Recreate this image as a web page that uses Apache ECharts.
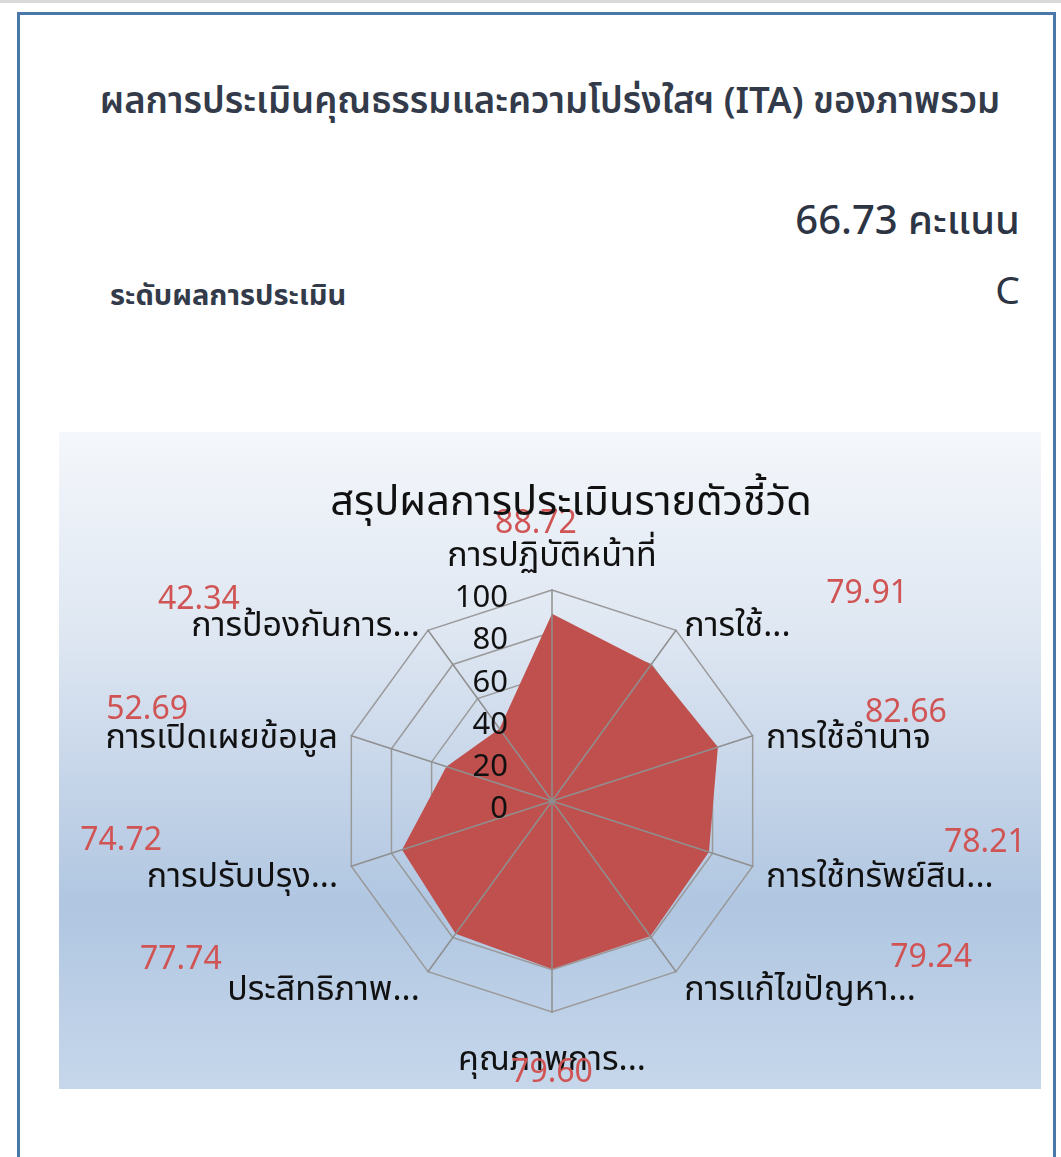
<!DOCTYPE html>
<html>
<head>
<meta charset="utf-8">
<script src="https://cdn.jsdelivr.net/npm/echarts@6/dist/echarts.min.js"></script>
<style>
  html, body { margin: 0; padding: 0; background: #ffffff; }
  body { width: 1061px; height: 1157px; position: relative; overflow: hidden;
         font-family: "Noto Sans Thai", "Noto Sans", "DejaVu Sans", sans-serif; }
  #topbar { position: absolute; left: 0; top: 0; width: 1061px; height: 3px; background: #d9d9d9; }
  #card { position: absolute; left: 17px; top: 12px; width: 1033px; height: 1200px;
          border: 3px solid #4a78a8; background: #ffffff; }
  .t { position: absolute; white-space: nowrap; color: #333b4a; }
  #title { left: 0; width: 1100px; top: 80px; text-align: center; font-size: 36.5px; font-weight: 600; line-height: 44px; }
  #score { right: 41px; top: 197px; font-size: 40px; font-weight: 500; line-height: 50px; color: #2d3545; }
  #levelLabel { left: 110px; top: 279px; font-size: 29px; font-weight: 700; line-height: 34px; }
  #level { right: 41px; top: 268px; font-size: 39px; font-weight: 400; line-height: 50px; color: #2d3545; }
  #chart { position: absolute; left: 59px; top: 432px; width: 982px; height: 657px; }
</style>
</head>
<body>
<div id="topbar"></div>
<div id="card"></div>
<div class="t" id="title"></div>
<div class="t" id="score"></div>
<div class="t" id="levelLabel"></div>
<div class="t" id="level"></div>
<div id="chart"></div>
<script>
// ---- data ----
const pageTitle = 'ผลการประเมินคุณธรรมและความโปร่งใสฯ (ITA) ของภาพรวม';
const totalScore = 66.73;
const scoreUnit = 'คะแนน';
const levelLabel = 'ระดับผลการประเมิน';
const levelGrade = 'C';
const chartTitle = 'สรุปผลการประเมินรายตัวชี้วัด';
// indicators in clockwise order starting at the top
const indicatorNames = [
  'การปฏิบัติหน้าที่',
  'การใช้...',
  'การใช้อำนาจ',
  'การใช้ทรัพย์สิน...',
  'การแก้ไขปัญหา...',
  'คุณภาพการ...',
  'ประสิทธิภาพ...',
  'การปรับปรุง...',
  'การเปิดเผยข้อมูล',
  'การป้องกันการ...'
];
const indicatorValues = [88.72, 79.91, 82.66, 78.21, 79.24, 79.60, 77.74, 74.72, 52.69, 42.34];
const axisMax = 100;
const axisTickCount = 5;

// ---- page text ----
document.getElementById('title').textContent = pageTitle;
document.getElementById('score').textContent = totalScore.toFixed(2) + ' ' + scoreUnit;
document.getElementById('levelLabel').textContent = levelLabel;
document.getElementById('level').textContent = levelGrade;

// ---- layout of value labels relative to indicator names (style only) ----
// kind: 'top' | 'bottom' | 'left' (text starts at anchor) | 'right' (text ends at anchor)
const labelKind = ['top','left','left','left','left','bottom','right','right','right','right'];
const labelShift = [32, 142, 99, 178, 206, 0, 198, 176, 150, 180];
const valueLineTop = [34, 34, 22, 40, 34, 0, 30, 44, 28, 22];
const nameDrop = 10;

const FONT = '"Noto Sans Thai", "Noto Sans", "DejaVu Sans", sans-serif';
const valueColor = '#d05454';
const nameColor = '#111111';

const rich = {};
indicatorNames.forEach(function (n, i) {
  const kind = labelKind[i];
  const vStyle = { fontSize: 32, color: valueColor, fontFamily: FONT };
  if (kind === 'left') vStyle.padding = [0, 0, 0, labelShift[i]];
  else vStyle.padding = [0, labelShift[i], 0, 0];
  const nStyle = { fontSize: 34, color: nameColor, fontFamily: FONT, lineHeight: 30 };
  if (kind === 'top') {
    vStyle.lineHeight = valueLineTop[i];
    rich['s' + i] = { lineHeight: 2 };
  } else if (kind === 'bottom') {
    vStyle.lineHeight = 20;
    nStyle.lineHeight = 6;
    rich['s' + i] = { lineHeight: 34 };
  } else {
    vStyle.lineHeight = valueLineTop[i];
    rich['s' + i] = { lineHeight: Math.max(valueLineTop[i] - 2 * nameDrop, 1) };
  }
  rich['v' + i] = vStyle;
  rich['n' + i] = nStyle;
});

function nameFormatter(name) {
  const i = indicatorNames.indexOf(name);
  const v = indicatorValues[i].toFixed(2);
  const kind = labelKind[i];
  if (kind === 'bottom') return '{s' + i + '|}\n{n' + i + '|' + name + '}\n{v' + i + '|' + v + '}';
  return '{v' + i + '|' + v + '}\n{n' + i + '|' + name + '}\n{s' + i + '|}';
}

// ECharts radar runs counter-clockwise: reorder (top first, then reversed)
const order = [0];
for (let k = indicatorNames.length - 1; k >= 1; k--) order.push(k);

function makeIndicators(withLabel) {
  return order.map(function (k, j) {
    const ind = { name: indicatorNames[k], max: axisMax, min: 0, nameMoveOverlap: false };
    if (withLabel && j === 0) {
      ind.axisLabel = {
        show: true, color: '#111111', margin: 44, hideOverlap: false,
        fontSize: 31, fontFamily: FONT, verticalAlign: 'top', lineHeight: 22
      };
    }
    return ind;
  });
}

const center = [493, 369];
const radius = 211;

const chart = echarts.init(document.getElementById('chart'), null, { renderer: 'canvas' });
chart.setOption({
  backgroundColor: new echarts.graphic.LinearGradient(0, 0, 0, 1, [
    { offset: 0, color: '#f4f7fb' },
    { offset: 0.3, color: '#dfe7f2' },
    { offset: 0.72, color: '#b0c6e1' },
    { offset: 1, color: '#c6d7eb' }
  ]),
  animation: false,
  title: {
    text: chartTitle,
    left: 507, top: 49, textAlign: 'center',
    textStyle: { fontSize: 41.5, fontWeight: 'normal', color: '#111111', fontFamily: FONT }
  },
  radar: [
    {
      center: center, radius: radius, shape: 'polygon', startAngle: 90,
      splitNumber: axisTickCount, z: 0,
      indicator: makeIndicators(false),
      axisName: { show: false },
      axisLine: { show: false },
      axisTick: { show: false },
      axisLabel: { show: false },
      splitArea: { show: false },
      splitLine: { show: true, lineStyle: { color: '#9a9a9a', width: 1.5 } }
    },
    {
      center: center, radius: radius, shape: 'polygon', startAngle: 90,
      splitNumber: axisTickCount, z: 5,
      indicator: makeIndicators(true),
      axisNameGap: 14,
      axisName: {
        show: true,
        formatter: nameFormatter,
        rich: rich,
        fontFamily: FONT
      },
      axisLine: { show: true, lineStyle: { color: '#8f8f8f', width: 1.5 } },
      axisTick: { show: false },
      axisLabel: { show: false },
      splitArea: { show: false },
      splitLine: { show: false }
    }
  ],
  series: [{
    type: 'radar',
    radarIndex: 0,
    z: 2,
    symbol: 'none',
    lineStyle: { width: 0, color: '#c0504d' },
    areaStyle: { color: '#c0504d', opacity: 1 },
    data: [{ value: order.map(function (k) { return indicatorValues[k]; }), name: 'ITA' }]
  }]
});
</script>
</body>
</html>
